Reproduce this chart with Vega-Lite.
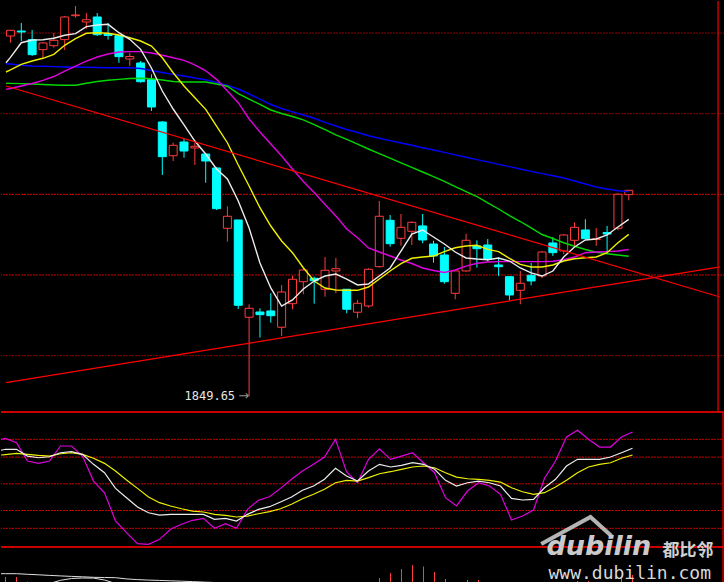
{
"$schema": "https://vega.github.io/schema/vega-lite/v6.json",
"background": "#000000",
"padding": 0,
"spacing": 0,
"bounds": "flush",
"config": {"view": {"stroke": null}},
"datasets": {
"candles": [
{"i":0,"open":2296.3,"high":2303.8,"low":2288.0,"close":2303.4},
{"i":1,"open":2302.5,"high":2312.5,"low":2290.1,"close":2301.3},
{"i":2,"open":2291.8,"high":2303.8,"low":2271.5,"close":2273.2},
{"i":3,"open":2279.4,"high":2288.9,"low":2269.1,"close":2287.7},
{"i":4,"open":2284.3,"high":2300.1,"low":2281.8,"close":2291.0},
{"i":5,"open":2291.8,"high":2321.1,"low":2279.0,"close":2319.9},
{"i":6,"open":2321.5,"high":2333.5,"low":2319.0,"close":2322.4},
{"i":7,"open":2313.7,"high":2324.9,"low":2305.4,"close":2316.5},
{"i":8,"open":2319.9,"high":2324.9,"low":2296.3,"close":2297.9},
{"i":9,"open":2299.4,"high":2312.5,"low":2291.8,"close":2297.0},
{"i":10,"open":2296.7,"high":2296.7,"low":2263.2,"close":2270.7},
{"i":11,"open":2267.8,"high":2275.6,"low":2259.1,"close":2270.9},
{"i":12,"open":2262.9,"high":2265.3,"low":2238.4,"close":2239.7},
{"i":13,"open":2242.2,"high":2248.8,"low":2203.3,"close":2208.3},
{"i":14,"open":2189.7,"high":2190.9,"low":2124.0,"close":2146.7},
{"i":15,"open":2147.9,"high":2164.0,"low":2141.3,"close":2160.8},
{"i":16,"open":2164.9,"high":2169.0,"low":2145.4,"close":2153.7},
{"i":17,"open":2157.5,"high":2164.0,"low":2136.4,"close":2159.6},
{"i":18,"open":2150.0,"high":2151.2,"low":2114.4,"close":2141.3},
{"i":19,"open":2132.7,"high":2133.9,"low":2080.6,"close":2082.2},
{"i":20,"open":2057.9,"high":2085.2,"low":2041.3,"close":2072.8},
{"i":21,"open":2068.2,"high":2068.2,"low":1957.8,"close":1962.4},
{"i":22,"open":1947.6,"high":1963.7,"low":1849.65,"close":1958.7},
{"i":23,"open":1954.1,"high":1958.7,"low":1922.3,"close":1950.8},
{"i":24,"open":1955.4,"high":1977.3,"low":1940.9,"close":1949.5},
{"i":25,"open":1935.2,"high":1987.6,"low":1924.4,"close":1978.9},
{"i":26,"open":1964.4,"high":1998.8,"low":1957.5,"close":1994.7},
{"i":27,"open":1991.7,"high":2007.4,"low":1976.1,"close":2006.2},
{"i":28,"open":1995.9,"high":1997.9,"low":1964.4,"close":1992.9},
{"i":29,"open":1982.3,"high":2022.3,"low":1973.1,"close":2005.8},
{"i":30,"open":2005.0,"high":2021.1,"low":1977.3,"close":2007.8},
{"i":31,"open":1982.3,"high":1982.3,"low":1952.5,"close":1957.5},
{"i":32,"open":1953.8,"high":1969.0,"low":1946.3,"close":1964.9},
{"i":33,"open":1961.6,"high":2008.3,"low":1959.5,"close":2007.1},
{"i":34,"open":2010.3,"high":2091.8,"low":2009.1,"close":2072.8},
{"i":35,"open":2067.8,"high":2074.4,"low":2035.1,"close":2038.8},
{"i":36,"open":2045.5,"high":2075.6,"low":2036.3,"close":2059.1},
{"i":37,"open":2054.2,"high":2066.5,"low":2037.2,"close":2065.3},
{"i":38,"open":2060.8,"high":2075.6,"low":2039.3,"close":2043.4},
{"i":39,"open":2038.4,"high":2042.5,"low":2015.3,"close":2023.6},
{"i":40,"open":2024.8,"high":2034.7,"low":1989.2,"close":1991.7},
{"i":41,"open":1977.3,"high":2005.6,"low":1969.9,"close":2005.0},
{"i":42,"open":2005.0,"high":2051.2,"low":2004.1,"close":2043.0},
{"i":43,"open":2036.0,"high":2043.0,"low":2009.1,"close":2032.6},
{"i":44,"open":2037.2,"high":2044.6,"low":2016.5,"close":2019.5},
{"i":45,"open":2012.4,"high":2021.9,"low":1998.8,"close":2010.3},
{"i":46,"open":1997.9,"high":1997.9,"low":1969.0,"close":1975.2},
{"i":47,"open":1981.0,"high":2005.0,"low":1963.7,"close":1989.7},
{"i":48,"open":1999.6,"high":2014.9,"low":1987.2,"close":1992.6},
{"i":49,"open":1998.8,"high":2029.8,"low":1995.9,"close":2028.5},
{"i":50,"open":2039.7,"high":2047.1,"low":2023.6,"close":2027.7},
{"i":51,"open":2029.8,"high":2050.8,"low":2025.7,"close":2049.6},
{"i":52,"open":2043.0,"high":2065.3,"low":2036.0,"close":2059.1},
{"i":53,"open":2055.8,"high":2069.1,"low":2044.3,"close":2045.0},
{"i":54,"open":2044.0,"high":2058.3,"low":2036.0,"close":2044.9},
{"i":55,"open":2052.7,"high":2060.8,"low":2027.7,"close":2050.8},
{"i":56,"open":2057.9,"high":2101.3,"low":2055.4,"close":2100.1},
{"i":57,"open":2099.6,"high":2105.0,"low":2092.6,"close":2105.0}
],
"ma": [
{"i":-0.40909,"ma5":2263.2,"ma10":2251.7,"ma20":2230.2,"ma30":2237.7,"ma60":2262.0},
{"i":0,"ma5":2269.8,"ma10":2254.2,"ma20":2231.2,"ma30":2237.6,"ma60":2261.6},
{"i":1,"ma5":2288.0,"ma10":2261.2,"ma20":2234.3,"ma30":2237.3,"ma60":2260.1},
{"i":2,"ma5":2291.4,"ma10":2265.3,"ma20":2237.4,"ma30":2236.8,"ma60":2259.1},
{"i":3,"ma5":2291.7,"ma10":2268.7,"ma20":2241.4,"ma30":2236.2,"ma60":2258.8},
{"i":4,"ma5":2293.5,"ma10":2273.6,"ma20":2246.1,"ma30":2235.6,"ma60":2258.3},
{"i":5,"ma5":2297.2,"ma10":2284.8,"ma20":2252.9,"ma30":2235.2,"ma60":2257.9},
{"i":6,"ma5":2299.2,"ma10":2293.0,"ma20":2259.1,"ma30":2235.2,"ma60":2257.9},
{"i":7,"ma5":2307.9,"ma10":2299.7,"ma20":2265.3,"ma30":2237.7,"ma60":2257.5},
{"i":8,"ma5":2310.0,"ma10":2300.4,"ma20":2270.3,"ma30":2239.9,"ma60":2257.3},
{"i":9,"ma5":2310.8,"ma10":2299.7,"ma20":2274.0,"ma30":2241.4,"ma60":2257.0},
{"i":10,"ma5":2300.4,"ma10":2297.6,"ma20":2276.5,"ma30":2242.6,"ma60":2257.0},
{"i":11,"ma5":2292.2,"ma10":2294.2,"ma20":2276.9,"ma30":2243.6,"ma60":2257.0},
{"i":12,"ma5":2279.8,"ma10":2290.1,"ma20":2276.9,"ma30":2243.9,"ma60":2256.0},
{"i":13,"ma5":2256.7,"ma10":2283.9,"ma20":2275.3,"ma30":2243.3,"ma60":2253.6},
{"i":14,"ma5":2228.1,"ma10":2269.4,"ma20":2272.4,"ma30":2241.8,"ma60":2251.1},
{"i":15,"ma5":2205.8,"ma10":2250.8,"ma20":2269.3,"ma30":2240.0,"ma60":2248.8},
{"i":16,"ma5":2186.0,"ma10":2234.3,"ma20":2266.2,"ma30":2239.3,"ma60":2246.7},
{"i":17,"ma5":2166.1,"ma10":2219.8,"ma20":2260.4,"ma30":2239.3,"ma60":2244.3},
{"i":18,"ma5":2150.0,"ma10":2205.4,"ma20":2253.2,"ma30":2239.3,"ma60":2242.1},
{"i":19,"ma5":2131.4,"ma10":2184.7,"ma20":2242.6,"ma30":2236.8,"ma60":2238.7},
{"i":20,"ma5":2119.0,"ma10":2164.0,"ma20":2228.1,"ma30":2234.0,"ma60":2235.0},
{"i":21,"ma5":2091.7,"ma10":2136.4,"ma20":2213.6,"ma30":2225.0,"ma60":2230.6},
{"i":22,"ma5":2058.3,"ma10":2110.3,"ma20":2193.4,"ma30":2218.2,"ma60":2224.4},
{"i":23,"ma5":2014.9,"ma10":2083.4,"ma20":2177.3,"ma30":2211.4,"ma60":2218.2},
{"i":24,"ma5":1983.9,"ma10":2060.7,"ma20":2162.4,"ma30":2204.6,"ma60":2211.4},
{"i":25,"ma5":1961.5,"ma10":2042.1,"ma20":2147.5,"ma30":2200.2,"ma60":2206.4},
{"i":26,"ma5":1969.0,"ma10":2027.6,"ma20":2131.4,"ma30":2196.5,"ma60":2202.3},
{"i":27,"ma5":1982.6,"ma10":2009.0,"ma20":2115.9,"ma30":2192.4,"ma60":2198.4},
{"i":28,"ma5":1992.5,"ma10":1992.5,"ma20":2102.3,"ma30":2186.3,"ma60":2194.3},
{"i":29,"ma5":1998.7,"ma10":1983.9,"ma20":2087.4,"ma30":2180.1,"ma60":2189.3},
{"i":30,"ma5":2001.2,"ma10":1981.4,"ma20":2073.1,"ma30":2173.8,"ma60":2184.7},
{"i":31,"ma5":1995.0,"ma10":1981.0,"ma20":2057.1,"ma30":2168.1,"ma60":2180.4},
{"i":32,"ma5":1987.6,"ma10":1981.0,"ma20":2046.2,"ma30":2162.2,"ma60":2176.7},
{"i":33,"ma5":1988.8,"ma10":1985.1,"ma20":2033.5,"ma30":2156.2,"ma60":2172.6},
{"i":34,"ma5":1998.7,"ma10":1995.0,"ma20":2028.5,"ma30":2150.5,"ma60":2169.6},
{"i":35,"ma5":2008.7,"ma10":2004.9,"ma20":2023.5,"ma30":2144.8,"ma60":2166.6},
{"i":36,"ma5":2029.7,"ma10":2014.0,"ma20":2018.6,"ma30":2139.1,"ma60":2163.7},
{"i":37,"ma5":2050.8,"ma10":2020.7,"ma20":2014.2,"ma30":2133.4,"ma60":2160.8},
{"i":38,"ma5":2055.8,"ma10":2022.3,"ma20":2008.7,"ma30":2127.7,"ma60":2157.8},
{"i":39,"ma5":2047.1,"ma10":2023.5,"ma20":2005.6,"ma30":2122.0,"ma60":2154.9},
{"i":40,"ma5":2038.4,"ma10":2028.9,"ma20":2003.1,"ma30":2116.2,"ma60":2152.0},
{"i":41,"ma5":2028.5,"ma10":2033.8,"ma20":2006.2,"ma30":2109.7,"ma60":2149.0},
{"i":42,"ma5":2021.1,"ma10":2035.9,"ma20":2010.9,"ma30":2103.5,"ma60":2146.0},
{"i":43,"ma5":2019.8,"ma10":2036.8,"ma20":2014.5,"ma30":2097.3,"ma60":2143.1},
{"i":44,"ma5":2018.9,"ma10":2031.8,"ma20":2016.1,"ma30":2089.3,"ma60":2140.2},
{"i":45,"ma5":2021.1,"ma10":2028.9,"ma20":2016.5,"ma30":2081.8,"ma60":2137.2},
{"i":46,"ma5":2017.3,"ma10":2020.7,"ma20":2016.5,"ma30":2073.5,"ma60":2134.3},
{"i":47,"ma5":2008.7,"ma10":2013.2,"ma20":2016.5,"ma30":2066.3,"ma60":2131.4},
{"i":48,"ma5":2002.5,"ma10":2009.9,"ma20":2016.5,"ma30":2058.3,"ma60":2128.4},
{"i":49,"ma5":1998.7,"ma10":2009.9,"ma20":2016.5,"ma30":2050.2,"ma60":2125.7},
{"i":50,"ma5":2004.9,"ma10":2012.4,"ma20":2017.1,"ma30":2045.2,"ma60":2123.0},
{"i":51,"ma5":2022.3,"ma10":2017.3,"ma20":2018.9,"ma30":2040.0,"ma60":2120.3},
{"i":52,"ma5":2034.7,"ma10":2020.2,"ma20":2022.3,"ma30":2035.6,"ma60":2116.5},
{"i":53,"ma5":2043.4,"ma10":2021.4,"ma20":2027.6,"ma30":2031.6,"ma60":2112.8},
{"i":54,"ma5":2044.6,"ma10":2022.3,"ma20":2028.5,"ma30":2028.2,"ma60":2109.1},
{"i":55,"ma5":2049.6,"ma10":2027.6,"ma20":2029.0,"ma30":2026.4,"ma60":2106.6},
{"i":56,"ma5":2059.5,"ma10":2040.0,"ma20":2029.7,"ma30":2024.8,"ma60":2104.5},
{"i":57,"ma5":2069.0,"ma10":2050.4,"ma20":2031.6,"ma30":2023.2,"ma60":2103.3}
],
"kdj": [
{"i":-0.40909,"k":87.7,"d":82.4,"j":100.0},
{"i":0,"k":88.8,"d":82.9,"j":101.1},{"i":1,"k":88.8,"d":84.3,"j":96.2},{"i":2,"k":81.2,"d":83.1,"j":75.6},
{"i":3,"k":79.3,"d":82.0,"j":73.0},{"i":4,"k":80.4,"d":81.2,"j":75.6},{"i":5,"k":84.9,"d":83.8,"j":92.5},
{"i":6,"k":86.1,"d":84.9,"j":92.5},{"i":7,"k":83.1,"d":83.1,"j":81.2},{"i":8,"k":71.9,"d":78.7,"j":53.1},
{"i":9,"k":62.5,"d":73.0,"j":40.0},{"i":10,"k":44.9,"d":64.4,"j":8.2},{"i":11,"k":34.4,"d":54.3,"j":-4.9},
{"i":12,"k":23.9,"d":44.9,"j":-17.3},{"i":13,"k":17.5,"d":35.2,"j":-18.0},{"i":14,"k":14.9,"d":28.8,"j":-12.4},
{"i":15,"k":15.7,"d":25.1,"j":-1.1},{"i":16,"k":15.7,"d":22.0,"j":4.5},{"i":17,"k":15.7,"d":19.4,"j":9.0},
{"i":18,"k":15.7,"d":18.3,"j":11.2},{"i":19,"k":10.1,"d":15.7,"j":0.0},{"i":20,"k":11.2,"d":14.6,"j":5.2},
{"i":21,"k":8.2,"d":12.7,"j":0.0},{"i":22,"k":15.7,"d":13.8,"j":21.3},{"i":23,"k":21.3,"d":16.4,"j":31.5},
{"i":24,"k":24.3,"d":18.7,"j":35.5},{"i":25,"k":29.6,"d":22.0,"j":44.9},{"i":26,"k":35.2,"d":27.0,"j":55.1},
{"i":27,"k":42.7,"d":33.3,"j":64.4},{"i":28,"k":47.5,"d":38.2,"j":71.9},{"i":29,"k":55.1,"d":43.8,"j":80.1},
{"i":30,"k":67.4,"d":51.2,"j":100.0},{"i":31,"k":58.8,"d":53.9,"j":63.6},{"i":32,"k":53.1,"d":53.1,"j":51.2},
{"i":33,"k":64.4,"d":56.9,"j":77.5},{"i":34,"k":71.9,"d":61.3,"j":89.4},{"i":35,"k":68.9,"d":63.6,"j":77.5},
{"i":36,"k":70.8,"d":66.3,"j":81.2},{"i":37,"k":73.7,"d":68.9,"j":84.9},{"i":38,"k":71.9,"d":70.0,"j":73.7},
{"i":39,"k":66.3,"d":68.1,"j":62.5},{"i":40,"k":53.9,"d":62.5,"j":34.4},{"i":41,"k":47.5,"d":57.6,"j":25.1},
{"i":42,"k":51.2,"d":55.7,"j":41.9},{"i":43,"k":53.1,"d":55.1,"j":51.2},{"i":44,"k":51.2,"d":53.9,"j":47.5},
{"i":45,"k":47.5,"d":52.0,"j":38.2},{"i":46,"k":33.7,"d":45.6,"j":9.3},{"i":47,"k":31.8,"d":41.1,"j":13.8},
{"i":48,"k":32.6,"d":38.2,"j":20.6},{"i":49,"k":45.6,"d":40.0,"j":56.2},{"i":50,"k":55.1,"d":46.4,"j":75.6},
{"i":51,"k":70.0,"d":53.9,"j":102.6},{"i":52,"k":77.5,"d":62.5,"j":110.1},{"i":53,"k":77.5,"d":68.9,"j":100.0},
{"i":54,"k":77.5,"d":71.9,"j":91.3},{"i":55,"k":80.1,"d":73.7,"j":91.3},{"i":56,"k":84.9,"d":78.7,"j":102.6},
{"i":57,"k":89.9,"d":82.4,"j":108.2}
],
"vol": [
{"i":0,"vol":64},{"i":1,"vol":64},{"i":2,"vol":59.5},{"i":34,"vol":63},{"i":35,"vol":68},{"i":36,"vol":72},
{"i":37,"vol":76},{"i":38,"vol":74.5},{"i":39,"vol":69},{"i":40,"vol":62},{"i":42,"vol":61},{"i":43,"vol":61},
{"i":52,"vol":60},{"i":53,"vol":60},{"i":54,"vol":59},{"i":56,"vol":64},{"i":57,"vol":66}
],
"vma": [
{"line":"a","i":-0.40909,"v":67.3},
{"line":"a","i":0,"v":67.3},{"line":"a","i":1,"v":67.3},{"line":"a","i":2,"v":66.7},{"line":"a","i":3,"v":66.2},
{"line":"a","i":4,"v":65.6},{"line":"a","i":5,"v":65.1},{"line":"a","i":6,"v":64.6},{"line":"a","i":7,"v":64.2},
{"line":"a","i":8,"v":63.7},{"line":"a","i":9,"v":63.5},{"line":"a","i":10,"v":63.3},{"line":"a","i":11,"v":62.1},
{"line":"a","i":12,"v":61.4},{"line":"a","i":13,"v":60.9},{"line":"a","i":14,"v":60.6},{"line":"a","i":15,"v":60.2},
{"line":"a","i":16,"v":59.8},{"line":"a","i":17,"v":59.4},{"line":"a","i":18,"v":58.9},{"line":"a","i":19,"v":58.5},
{"line":"a","i":20,"v":57.5},
{"line":"b","i":4,"v":57.5},{"line":"b","i":5,"v":60.7},{"line":"b","i":6,"v":62.5},{"line":"b","i":7,"v":63.0},
{"line":"b","i":8,"v":62.9},{"line":"b","i":9,"v":61.0},{"line":"b","i":10,"v":57.5}
],
"trend": [
{"line":"A","i":-0.40909,"p":2234.3},{"line":"A","i":65.40909,"p":1972.7},
{"line":"B","i":-0.40909,"p":1866.5},{"line":"B","i":65.40909,"p":2010.1}
],
"grid": [{"p":2300},{"p":2200},{"p":2100},{"p":2000},{"p":1900}],
"kgrid": [{"v":100},{"v":80},{"v":50},{"v":20},{"v":0}],
"kborder": [{"v":130.7},{"v":-21.0}],
"edge": [{"i":65.23}]
},
"vconcat": [
{
"width": 724, "height": 411,
"layer": [
{"data":{"name":"grid"},"mark":{"type":"rule","strokeDash":[2,1],"strokeWidth":1},
 "encoding":{"y":{"field":"p","type":"quantitative","scale":{"domain":[1830.1,2339.73],"nice":false,"zero":false},"axis":null},
  "color":{"condition":{"test":"datum.p==2000||datum.p==2100","value":"#d40000"},"value":"#8c0000"}}},
{"data":{"name":"candles"},"mark":{"type":"rule","strokeWidth":1,"clip":true},
 "encoding":{"x":{"field":"i","type":"quantitative","scale":{"domain":[-0.40909,65.40909],"nice":false,"zero":false},"axis":null},
  "y":{"field":"low","type":"quantitative","scale":{"domain":[1830.1,2339.73],"nice":false,"zero":false},"axis":null},
  "y2":{"field":"high"},
  "color":{"condition":{"test":"datum.close>=datum.open","value":"#ff3c3c"},"value":"#00ffff"}}},
{"data":{"name":"candles"},"mark":{"type":"bar","width":8,"strokeWidth":1,"clip":true},
 "encoding":{"x":{"field":"i","type":"quantitative","scale":{"domain":[-0.40909,65.40909],"nice":false,"zero":false},"axis":null},
  "y":{"field":"open","type":"quantitative","scale":{"domain":[1830.1,2339.73],"nice":false,"zero":false},"axis":null},
  "y2":{"field":"close"},
  "fill":{"condition":{"test":"datum.close>=datum.open","value":"#000000"},"value":"#00ffff"},
  "stroke":{"condition":{"test":"datum.close>=datum.open","value":"#ff3c3c"},"value":"#00ffff"}}},
{"data":{"name":"ma"},"transform":[{"fold":["ma60","ma30","ma20","ma10","ma5"],"as":["ma","v"]}],
 "mark":{"type":"line","strokeWidth":1.4,"clip":true},
 "encoding":{"x":{"field":"i","type":"quantitative","scale":{"domain":[-0.40909,65.40909],"nice":false,"zero":false},"axis":null},
  "y":{"field":"v","type":"quantitative","scale":{"domain":[1830.1,2339.73],"nice":false,"zero":false},"axis":null},
  "color":{"field":"ma","type":"nominal","scale":{"domain":["ma5","ma10","ma20","ma30","ma60"],"range":["#ececec","#f0f000","#e000e0","#00d800","#0000ff"]},"legend":null}}},
{"data":{"name":"trend"},"mark":{"type":"line","strokeWidth":1.2,"color":"#ff0000","clip":true},
 "encoding":{"x":{"field":"i","type":"quantitative","scale":{"domain":[-0.40909,65.40909],"nice":false,"zero":false},"axis":null},
  "y":{"field":"p","type":"quantitative","scale":{"domain":[1830.1,2339.73],"nice":false,"zero":false},"axis":null},
  "detail":{"field":"line","type":"nominal"}}},
{"data":{"name":"edge"},"mark":{"type":"rule","strokeWidth":1.5,"color":"#c80000"},
 "encoding":{"x":{"field":"i","type":"quantitative","scale":{"domain":[-0.40909,65.40909],"nice":false,"zero":false},"axis":null}}},
{"data":{"values":[{"i":22,"p":1849.65,"label":"1849.65"}]},
 "mark":{"type":"text","align":"right","baseline":"middle","dx":-14,"font":"DejaVu Sans Mono","fontSize":12,"color":"#e6e6e6"},
 "encoding":{"x":{"field":"i","type":"quantitative","scale":{"domain":[-0.40909,65.40909],"nice":false,"zero":false},"axis":null},
  "y":{"field":"p","type":"quantitative","scale":{"domain":[1830.1,2339.73],"nice":false,"zero":false},"axis":null},
  "text":{"field":"label"}}},
{"data":{"values":[{"i":22,"p":1849.65,"label":"→"}]},
 "mark":{"type":"text","align":"right","baseline":"middle","dx":0,"font":"DejaVu Sans","fontSize":13,"color":"#909090"},
 "encoding":{"x":{"field":"i","type":"quantitative","scale":{"domain":[-0.40909,65.40909],"nice":false,"zero":false},"axis":null},
  "y":{"field":"p","type":"quantitative","scale":{"domain":[1830.1,2339.73],"nice":false,"zero":false},"axis":null},
  "text":{"field":"label"}}}
]
},
{
"width": 724, "height": 135,
"layer": [
{"data":{"name":"kgrid"},"mark":{"type":"rule","strokeDash":[2,1],"strokeWidth":1,"color":"#c80000"},
 "encoding":{"y":{"field":"v","type":"quantitative","scale":{"domain":[-21.0,130.7],"nice":false,"zero":false},"axis":null}}},
{"data":{"name":"kborder"},"mark":{"type":"rule","strokeWidth":2,"color":"#c80000"},
 "encoding":{"y":{"field":"v","type":"quantitative","scale":{"domain":[-21.0,130.7],"nice":false,"zero":false},"axis":null}}},
{"data":{"name":"kdj"},"transform":[{"fold":["j","d","k"],"as":["line","v"]}],
 "mark":{"type":"line","strokeWidth":1.2,"clip":true},
 "encoding":{"x":{"field":"i","type":"quantitative","scale":{"domain":[-0.40909,65.40909],"nice":false,"zero":false},"axis":null},
  "y":{"field":"v","type":"quantitative","scale":{"domain":[-21.0,130.7],"nice":false,"zero":false},"axis":null},
  "color":{"field":"line","type":"nominal","scale":{"domain":["k","d","j"],"range":["#f0f0f0","#f0f000","#e000e0"]},"legend":null}}},
{"data":{"name":"edge"},"mark":{"type":"rule","strokeWidth":1.5,"color":"#c80000"},
 "encoding":{"x":{"field":"i","type":"quantitative","scale":{"domain":[-0.40909,65.40909],"nice":false,"zero":false},"axis":null}}}
]
},
{
"width": 724, "height": 36,
"layer": [
{"data":{"name":"vol"},"mark":{"type":"rule","strokeWidth":1,"color":"#ff3c3c","clip":true},
 "encoding":{"x":{"field":"i","type":"quantitative","scale":{"domain":[-0.40909,65.40909],"nice":false,"zero":false},"axis":null},
  "y":{"field":"vol","type":"quantitative","scale":{"domain":[58,94],"nice":false,"zero":false},"axis":null},
  "y2":{"datum":58}}},
{"data":{"name":"vma"},"mark":{"type":"line","strokeWidth":1,"color":"#e0e0e0","clip":true},
 "encoding":{"x":{"field":"i","type":"quantitative","scale":{"domain":[-0.40909,65.40909],"nice":false,"zero":false},"axis":null},
  "y":{"field":"v","type":"quantitative","scale":{"domain":[58,94],"nice":false,"zero":false},"axis":null},
  "detail":{"field":"line","type":"nominal"}}},
{"data":{"name":"edge"},"mark":{"type":"rule","strokeWidth":1.5,"color":"#c80000"},
 "encoding":{"x":{"field":"i","type":"quantitative","scale":{"domain":[-0.40909,65.40909],"nice":false,"zero":false},"axis":null}}},
{"data":{"values":[{"i":48.7,"v":97},{"i":53.18,"v":124},{"i":55.09,"v":105}]},
 "mark":{"type":"line","strokeWidth":4,"color":"#c8c8c8","opacity":0.9,"strokeJoin":"miter"},
 "encoding":{"x":{"field":"i","type":"quantitative","scale":{"domain":[-0.40909,65.40909],"nice":false,"zero":false},"axis":null},
  "y":{"field":"v","type":"quantitative","scale":{"domain":[58,94],"nice":false,"zero":false},"axis":null}}},
{"data":{"values":[{"i":49.18,"v":86,"t":"dubilin"}]},
 "mark":{"type":"text","align":"left","baseline":"alphabetic","font":"DejaVu Sans","fontWeight":"bold","fontStyle":"italic","fontSize":27,"color":"#cacaca"},
 "encoding":{"x":{"field":"i","type":"quantitative","scale":{"domain":[-0.40909,65.40909],"nice":false,"zero":false},"axis":null},
  "y":{"field":"v","type":"quantitative","scale":{"domain":[58,94],"nice":false,"zero":false},"axis":null},
  "text":{"field":"t"}}},
{"data":{"values":[{"i":59.73,"v":85,"t":"都比邻"}]},
 "mark":{"type":"text","align":"left","baseline":"alphabetic","font":"Noto Sans CJK SC","fontWeight":"bold","fontSize":17,"color":"#d0d0d0"},
 "encoding":{"x":{"field":"i","type":"quantitative","scale":{"domain":[-0.40909,65.40909],"nice":false,"zero":false},"axis":null},
  "y":{"field":"v","type":"quantitative","scale":{"domain":[58,94],"nice":false,"zero":false},"axis":null},
  "text":{"field":"t"}}},
{"data":{"values":[{"i":49.36,"v":62.5,"t":"www.dubilin.com"}]},
 "mark":{"type":"text","align":"left","baseline":"alphabetic","font":"DejaVu Sans Mono","fontSize":18,"color":"#d8d8d8"},
 "encoding":{"x":{"field":"i","type":"quantitative","scale":{"domain":[-0.40909,65.40909],"nice":false,"zero":false},"axis":null},
  "y":{"field":"v","type":"quantitative","scale":{"domain":[58,94],"nice":false,"zero":false},"axis":null},
  "text":{"field":"t"}}}
]
}
]
}
